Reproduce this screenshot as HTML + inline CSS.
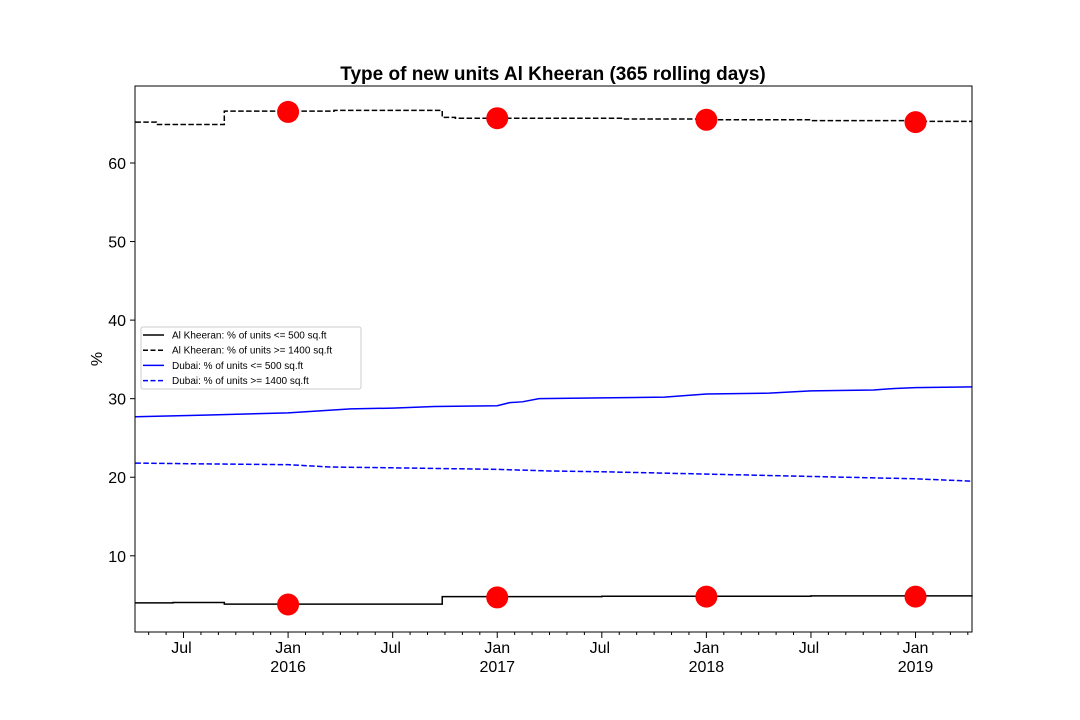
<!DOCTYPE html>
<html><head><meta charset="utf-8"><style>
body{margin:0;background:#fff;font-family:"Liberation Sans","DejaVu Sans",sans-serif}
</style></head><body>
<svg id="c" width="1080" height="720" style="display:block"></svg>
<script>
// data (decimal years)
const akSmallT=[2015.27,2015.45,2015.68,2015.695,2016.737,2016.80,2017.5,2018.5,2019.27];
const akSmallV=[4.0,4.05,4.05,3.85,4.8,4.8,4.85,4.9,4.95];
const akLargeT=[2015.27,2015.37,2015.695,2016.22,2016.737,2016.80,2017.3,2017.6,2018.0,2018.5,2019.0,2019.27];
const akLargeV=[65.2,64.9,66.6,66.7,65.8,65.7,65.7,65.6,65.5,65.4,65.3,65.3];
const dSmallT=[2015.27,2015.6,2016.0,2016.3,2016.5,2016.7,2017.0,2017.06,2017.12,2017.2,2017.5,2017.8,2018.0,2018.3,2018.5,2018.8,2018.9,2019.0,2019.27];
const dSmallV=[27.7,27.9,28.2,28.7,28.8,29.0,29.1,29.5,29.6,30.0,30.1,30.2,30.6,30.7,31.0,31.1,31.3,31.4,31.5];
const dLargeT=[2015.27,2015.6,2016.0,2016.2,2016.5,2017.0,2017.25,2017.5,2018.0,2018.5,2019.0,2019.27];
const dLargeV=[21.8,21.7,21.6,21.3,21.2,21.0,20.8,20.7,20.4,20.1,19.8,19.5];
const dotT=[2016.0,2017.0,2018.0,2019.0];
const dotLarge=[66.5,65.7,65.5,65.2];
const dotSmall=[3.8,4.7,4.8,4.8];
const yTicks=[10,20,30,40,50,60];
const X0=135,X1=972,Y0=86,Y1=632;
const tMin=2015.268,tMax=2019.27,vMin=0.3,vMax=69.8;
const sx=t=>X0+(t-tMin)/(tMax-tMin)*(X1-X0);
const sy=v=>Y1-(v-vMin)/(vMax-vMin)*(Y1-Y0);
const svg=document.getElementById('c');const NS='http://www.w3.org/2000/svg';
function mk(tag,attrs,parent){const e=document.createElementNS(NS,tag);for(const k in attrs)e.setAttribute(k,attrs[k]);(parent||svg).appendChild(e);return e;}
function series(T,V,step,color,dash,name){let d='';T.forEach((t,i)=>{if(i==0)d+='M'+sx(t)+','+sy(V[i]);else if(step)d+='H'+sx(t)+'V'+sy(V[i]);else d+='L'+sx(t)+','+sy(V[i]);});
const p=mk('path',{d:d,fill:'none',stroke:color,'stroke-width':1.5});if(dash)p.setAttribute('stroke-dasharray','5.5,2.4');

}
series(akSmallT,akSmallV,true,'#000',false,'line-ak-small');
series(akLargeT,akLargeV,true,'#000',true,'line-ak-large');
series(dSmallT,dSmallV,false,'#00f',false,'line-dubai-small');
series(dLargeT,dLargeV,false,'#00f',true,'line-dubai-large');
dotT.forEach((t,i)=>{[dotLarge[i],dotSmall[i]].forEach(v=>{const c=mk('circle',{cx:sx(t),cy:sy(v),r:11,fill:'#f00'});

});});
mk('rect',{x:X0,y:Y0,width:X1-X0,height:Y1-Y0,fill:'none',stroke:'#000','stroke-width':1});
yTicks.forEach(v=>{const y=sy(v);mk('line',{x1:X0-5,x2:X0,y1:y,y2:y,stroke:'#000'});
const t=mk('text',{x:X0-9,y:y+6,'text-anchor':'end','font-size':16});t.textContent=v;

});
for(let y=2015;y<=2019;y++)for(let m=0;m<12;m++){const t=y+m/12;if(t<tMin||t>tMax)continue;const x=sx(t);
const major=(m==0||m==6);mk('line',{x1:x,x2:x,y1:Y1,y2:Y1+(major?6:3),stroke:'#000'});
if(m==6){const l=mk('text',{x:x-2,y:Y1+21,'text-anchor':'middle','font-size':16});l.textContent='Jul';}
if(m==0){const l=mk('text',{x:x,y:Y1+21,'text-anchor':'middle','font-size':16});l.textContent='Jan';
const l2=mk('text',{x:x,y:Y1+40,'text-anchor':'middle','font-size':16});l2.textContent=y;}}
const yl=mk('text',{x:102,y:359,'text-anchor':'middle','font-size':16,transform:'rotate(-90 102 359)'});yl.textContent='%';


const ti=mk('text',{x:553,y:80,'text-anchor':'middle','font-size':19,'font-weight':'bold'});ti.textContent='Type of new units Al Kheeran (365 rolling days)';


const lg=mk('g',{});
mk('rect',{x:141,y:327,width:220,height:62,rx:2,fill:'#fff',stroke:'#ccc'},lg);
const ents=[['Al Kheeran: % of units <= 500 sq.ft','#000',false],['Al Kheeran: % of units >= 1400 sq.ft','#000',true],['Dubai: % of units <= 500 sq.ft','#00f',false],['Dubai: % of units >= 1400 sq.ft','#00f',true]];
ents.forEach((e,i)=>{const y=335+i*15.2;const l=mk('line',{x1:143,x2:164,y1:y,y2:y,stroke:e[1],'stroke-width':1.5},lg);if(e[2])l.setAttribute('stroke-dasharray','5,2.5');
const t=mk('text',{x:172,y:y+3.5,'font-size':10},lg);t.textContent=e[0];

});
</script>
</body></html>
